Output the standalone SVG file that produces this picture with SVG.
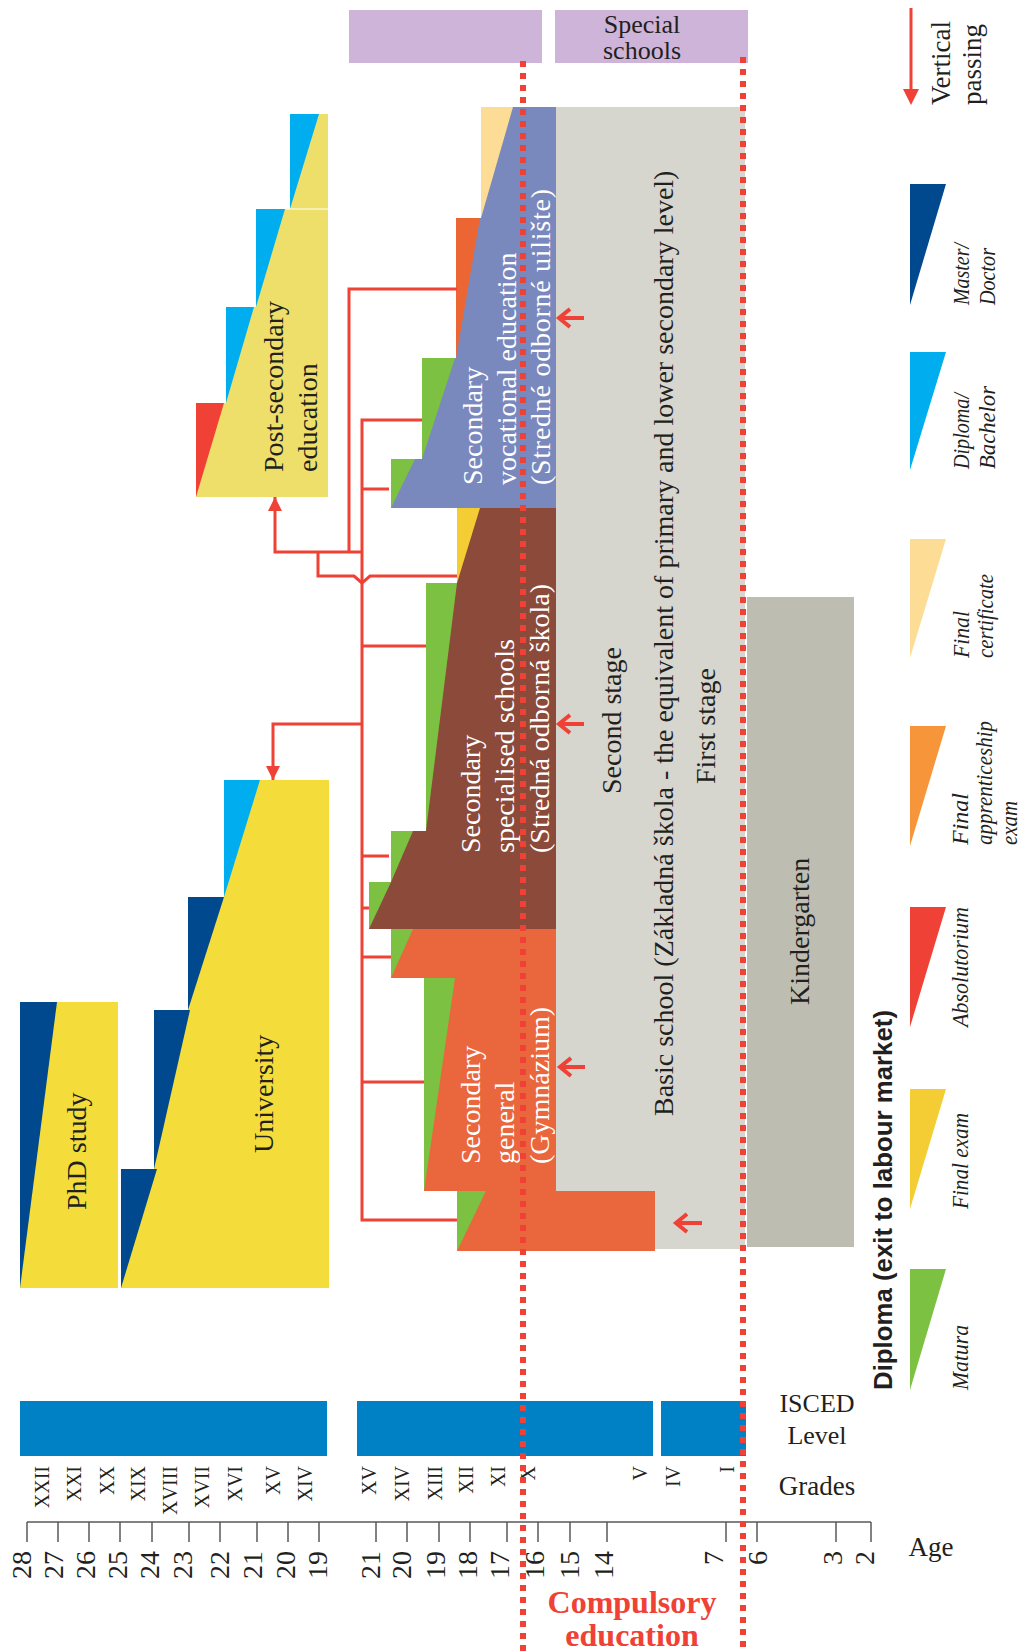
<svg xmlns="http://www.w3.org/2000/svg" width="1023" height="1651" viewBox="0 0 1023 1651">
<defs>
<style>
.t{font-family:"Liberation Serif",serif;fill:#231F20}
.w{fill:#fff}
.lab{font-size:28px}
.age{font-size:28px;text-anchor:end}
.gr{font-size:20px;text-anchor:end}
.lg{font-style:italic;font-size:24px}
.conn{stroke:#EF4135;stroke-width:3;fill:none}
.vp{stroke:#EF4135;stroke-width:4;fill:none}
.dot{stroke:#EF4135;stroke-width:6;stroke-dasharray:6 6;fill:none}
.axis{stroke:#58595B;stroke-width:1.5;fill:none}
.isced{fill:#0080C5}
.green{fill:#7CC142}
.dblue{fill:#00498F}
.lblue{fill:#00AEEF}
</style>
<marker id="ah" markerUnits="userSpaceOnUse" viewBox="0 0 14 14" refX="14" refY="7" markerWidth="14" markerHeight="14" orient="auto">
<path d="M0,0 L14,7 L0,14 Z" fill="#EF4135"/>
</marker>
</defs>
<rect width="1023" height="1651" fill="#fff"/>

<!-- Special schools -->
<g id="special-left"><rect x="349" y="10" width="193" height="53" fill="#CEB4D8"/></g>
<g id="special-schools"><rect x="555" y="10" width="193" height="53" fill="#CEB4D8"/>
<text class="t" font-size="26" x="642" y="33" text-anchor="middle">Special</text>
<text class="t" font-size="26" x="642" y="59" text-anchor="middle">schools</text></g>

<!-- Basic school -->
<g id="basic-school"><rect x="556" y="107" width="189" height="1142" fill="#D7D6CE"/>
<text class="t lab" transform="translate(673,1116) rotate(-90)">Basic school (Základná škola - the equivalent of primary and lower secondary level)</text>
<text class="t lab" transform="translate(621,794) rotate(-90)">Second stage</text>
<text class="t lab" transform="translate(715,784) rotate(-90)">First stage</text></g>

<!-- Kindergarten -->
<g id="kindergarten"><rect x="747" y="597" width="107" height="650" fill="#BEBDB1"/>
<text class="t lab" transform="translate(809,1005) rotate(-90)">Kindergarten</text></g>

<!-- Vocational -->
<g id="vocational"><path d="M481,107 H556 V508 H391 V459 H422 V358 H456 V218 H481 Z" fill="#7A89BD"/>
<path d="M481,107 L513,107 L481,218 Z" fill="#FDDD96"/>
<path d="M456,218 L480,218 L456,358 Z" fill="#EC6634"/>
<path d="M422,358 L455,358 L422,459 Z" class="green"/>
<path d="M391,459 L415,459 L391,508 Z" class="green"/>
<text class="t lab w" transform="translate(482,485) rotate(-90)">Secondary</text>
<text class="t lab w" transform="translate(516,485) rotate(-90)">vocational education</text>
<text class="t lab w" transform="translate(550,485) rotate(-90)" textLength="296" lengthAdjust="spacing">(Stredné odborné uilište)</text></g>

<!-- Specialised -->
<g id="specialised"><path d="M457,508 H556 V929 H369 V882 H391 V831 H426 V583 H457 Z" fill="#8B4A3A"/>
<path d="M457,508 L480,508 L457,583 Z" fill="#F3CD33"/>
<path d="M426,583 L457,583 L426,831 Z" class="green"/>
<path d="M391,831 L413,831 L391,882 Z" class="green"/>
<path d="M369,882 L391,882 L369,929 Z" class="green"/>
<text class="t lab w" transform="translate(480,853) rotate(-90)">Secondary</text>
<text class="t lab w" transform="translate(514,853) rotate(-90)">specialised schools</text>
<text class="t lab w" transform="translate(549,853) rotate(-90)">(Stredná odborná škola)</text></g>

<!-- Gymnazium -->
<g id="gymnazium"><path d="M391,929 H556 V1191 H655 V1251 H457 V1191 H424 V978 H391 Z" fill="#EA663D"/>
<path d="M391,929 L413,929 L391,978 Z" class="green"/>
<path d="M424,978 L455,978 L424,1191 Z" class="green"/>
<path d="M457,1191 L486,1191 L457,1251 Z" class="green"/>
<text class="t lab w" transform="translate(480,1164) rotate(-90)">Secondary</text>
<text class="t lab w" transform="translate(514,1164) rotate(-90)">general</text>
<text class="t lab w" transform="translate(549,1164) rotate(-90)">(Gymnázium)</text></g>

<!-- Post-secondary -->
<g id="post-secondary"><path d="M290,114 H328 V497 H196 V403 H226 V307 H256 V209 H290 Z" fill="#EEDF6A"/>
<path d="M290,114 L319,114 L290,209 Z" class="lblue"/>
<path d="M256,209 L285,209 L256,307 Z" class="lblue"/>
<path d="M226,307 L254,307 L226,403 Z" class="lblue"/>
<path d="M196,403 L224,403 L196,497 Z" fill="#EF4135"/>
<path d="M285,209 H328" stroke="#fff" stroke-width="1"/>
<text class="t lab" transform="translate(283,472) rotate(-90)">Post-secondary</text>
<text class="t lab" transform="translate(317,472) rotate(-90)">education</text></g>

<!-- University -->
<g id="university"><path d="M224,780 H329 V1288 H121 V1169 H154 V1010 H188 V897 H224 Z" fill="#F4DD3A"/>
<path d="M224,780 L260,780 L224,897 Z" class="lblue"/>
<path d="M188,897 L224,897 L188,1010 Z" class="dblue"/>
<path d="M154,1010 L190,1010 L154,1169 Z" class="dblue"/>
<path d="M121,1169 L157,1169 L121,1288 Z" class="dblue"/>
<text class="t lab" transform="translate(273,1153) rotate(-90)">University</text></g>

<!-- PhD -->
<g id="phd"><rect x="20" y="1002" width="98" height="286" fill="#F4DD3A"/>
<path d="M20,1002 L57,1002 L20,1288 Z" class="dblue"/>
<text class="t lab" transform="translate(86,1210) rotate(-90)">PhD study</text></g>

<!-- Connectors -->
<g id="connectors">
<path class="conn" d="M457,289 H349 V552"/>
<path class="conn" d="M422,420 H362 V1220 H457"/>
<path class="conn" d="M362,489 H389"/>
<path class="conn" d="M362,646 H426"/>
<path class="conn" d="M362,856 H389"/>
<path class="conn" d="M362,908 H369"/>
<path class="conn" d="M362,957 H391"/>
<path class="conn" d="M362,1082 H424"/>
<path class="conn" d="M362,552 H275 V497" marker-end="url(#ah)"/>
<path class="conn" d="M457,576 H370 L362,583 L354,576 H318 V552"/>
<path class="conn" d="M362,724 H273 V780" marker-end="url(#ah)"/>
<path class="vp" d="M584,318 H560 M570,309 L559,318 L570,327"/>
<path class="vp" d="M584,724 H560 M570,715 L559,724 L570,733"/>
<path class="vp" d="M585,1067 H561 M571,1058 L560,1067 L571,1076"/>
<path class="vp" d="M702,1223 H677 M687,1214 L676,1223 L687,1232"/>
</g>

<!-- ISCED bars -->
<g id="isced">
<rect class="isced" x="20" y="1401" width="307" height="55"/>
<rect class="isced" x="357" y="1401" width="296" height="55"/>
<rect class="isced" x="661" y="1401" width="85" height="55"/>
<text class="t" font-size="26" x="817" y="1412" text-anchor="middle">ISCED</text>
<text class="t" font-size="26" x="817" y="1444" text-anchor="middle">Level</text>
<text class="t" font-size="27" x="817" y="1495" text-anchor="middle">Grades</text>
</g>

<!-- Grades -->
<g id="grades">
<text class="t gr" transform="translate(49,1466) rotate(-90)">XXII</text>
<text class="t gr" transform="translate(81,1466) rotate(-90)">XXI</text>
<text class="t gr" transform="translate(114,1466) rotate(-90)">XX</text>
<text class="t gr" transform="translate(145,1466) rotate(-90)">XIX</text>
<text class="t gr" transform="translate(177,1466) rotate(-90)">XVIII</text>
<text class="t gr" transform="translate(209,1466) rotate(-90)">XVII</text>
<text class="t gr" transform="translate(242,1466) rotate(-90)">XVI</text>
<text class="t gr" transform="translate(280,1466) rotate(-90)">XV</text>
<text class="t gr" transform="translate(312,1466) rotate(-90)">XIV</text>
<text class="t gr" transform="translate(376,1466) rotate(-90)">XV</text>
<text class="t gr" transform="translate(409,1466) rotate(-90)">XIV</text>
<text class="t gr" transform="translate(442,1466) rotate(-90)">XIII</text>
<text class="t gr" transform="translate(473,1466) rotate(-90)">XII</text>
<text class="t gr" transform="translate(505,1466) rotate(-90)">XI</text>
<text class="t gr" transform="translate(535,1466) rotate(-90)">X</text>
<text class="t gr" transform="translate(647,1466) rotate(-90)">V</text>
<text class="t gr" transform="translate(680,1466) rotate(-90)">IV</text>
<text class="t gr" transform="translate(734,1466) rotate(-90)">I</text>
</g>

<!-- Age axis -->
<g id="age-axis">
<path class="axis" d="M27,1522 H871 M27,1522 V1542 M58,1522 V1542 M89,1522 V1542 M120,1522 V1542 M152,1522 V1542 M189,1522 V1542 M220,1522 V1542 M257,1522 V1542 M288,1522 V1542 M319,1522 V1542 M376,1522 V1542 M407,1522 V1542 M439,1522 V1542 M470,1522 V1542 M507,1522 V1542 M538,1522 V1542 M570,1522 V1542 M607,1522 V1542 M726,1522 V1542 M757,1522 V1542 M836,1522 V1542 M871,1522 V1542"/>
<text class="t age" transform="translate(31,1551) rotate(-90)">28</text>
<text class="t age" transform="translate(63,1551) rotate(-90)">27</text>
<text class="t age" transform="translate(95,1551) rotate(-90)">26</text>
<text class="t age" transform="translate(127,1551) rotate(-90)">25</text>
<text class="t age" transform="translate(159,1551) rotate(-90)">24</text>
<text class="t age" transform="translate(192,1551) rotate(-90)">23</text>
<text class="t age" transform="translate(229,1551) rotate(-90)">22</text>
<text class="t age" transform="translate(262,1551) rotate(-90)">21</text>
<text class="t age" transform="translate(295,1551) rotate(-90)">20</text>
<text class="t age" transform="translate(327,1551) rotate(-90)">19</text>
<text class="t age" transform="translate(380,1551) rotate(-90)">21</text>
<text class="t age" transform="translate(411,1551) rotate(-90)">20</text>
<text class="t age" transform="translate(445,1551) rotate(-90)">19</text>
<text class="t age" transform="translate(477,1551) rotate(-90)">18</text>
<text class="t age" transform="translate(509,1551) rotate(-90)">17</text>
<text class="t age" transform="translate(544,1551) rotate(-90)">16</text>
<text class="t age" transform="translate(579,1551) rotate(-90)">15</text>
<text class="t age" transform="translate(613,1551) rotate(-90)">14</text>
<text class="t age" transform="translate(723,1551) rotate(-90)">7</text>
<text class="t age" transform="translate(767,1551) rotate(-90)">6</text>
<text class="t age" transform="translate(842,1551) rotate(-90)">3</text>
<text class="t age" transform="translate(874,1551) rotate(-90)">2</text>
<text class="t" font-size="27" x="931" y="1556" text-anchor="middle">Age</text>
</g>

<!-- Compulsory education -->
<g id="compulsory">
<path class="dot" d="M523,61 V1651"/>
<path class="dot" d="M743,57 V1651"/>
<text x="632" y="1613" text-anchor="middle" font-family="Liberation Serif, serif" font-weight="bold" font-size="32" fill="#EF4135">Compulsory</text>
<text x="632" y="1646" text-anchor="middle" font-family="Liberation Serif, serif" font-weight="bold" font-size="32" fill="#EF4135">education</text>
</g>

<!-- Legend -->
<g id="legend">
<path d="M911,8 V92" stroke="#EF4135" stroke-width="3"/>
<path d="M903,89 L919,89 L911,105 Z" fill="#EF4135"/>
<text class="t" font-size="27" transform="translate(950,105) rotate(-90)">Vertical</text>
<text class="t" font-size="27" transform="translate(981,105) rotate(-90)">passing</text>

<path d="M910,184 L946,184 L910,305 Z" class="dblue"/>
<text class="t lg" transform="translate(969,305) rotate(-90)" textLength="62" lengthAdjust="spacingAndGlyphs">Master/</text>
<text class="t lg" transform="translate(995,305) rotate(-90)" textLength="57" lengthAdjust="spacingAndGlyphs">Doctor</text>

<path d="M910,352 L946,352 L910,470 Z" class="lblue"/>
<text class="t lg" transform="translate(969,469) rotate(-90)" textLength="76" lengthAdjust="spacingAndGlyphs">Diploma/</text>
<text class="t lg" transform="translate(995,469) rotate(-90)" textLength="83" lengthAdjust="spacingAndGlyphs">Bachelor</text>

<path d="M910,539 L946,539 L910,658 Z" fill="#FDDD96"/>
<text class="t lg" transform="translate(969,658) rotate(-90)" textLength="47" lengthAdjust="spacingAndGlyphs">Final</text>
<text class="t lg" transform="translate(993,658) rotate(-90)" textLength="84" lengthAdjust="spacingAndGlyphs">certificate</text>

<path d="M910,726 L946,726 L910,846 Z" fill="#F7953A"/>
<text class="t lg" transform="translate(968,845) rotate(-90)" textLength="52" lengthAdjust="spacingAndGlyphs">Final</text>
<text class="t lg" transform="translate(992,845) rotate(-90)" textLength="124" lengthAdjust="spacingAndGlyphs">apprenticeship</text>
<text class="t lg" transform="translate(1017,845) rotate(-90)" textLength="44" lengthAdjust="spacingAndGlyphs">exam</text>

<path d="M910,907 L946,907 L910,1027 Z" fill="#EF4135"/>
<text class="t lg" transform="translate(968,1027) rotate(-90)" textLength="120" lengthAdjust="spacingAndGlyphs">Absolutorium</text>

<path d="M910,1089 L946,1089 L910,1209 Z" fill="#F3CD33"/>
<text class="t lg" transform="translate(968,1209) rotate(-90)" textLength="96" lengthAdjust="spacingAndGlyphs">Final exam</text>

<path d="M910,1269 L946,1269 L910,1390 Z" class="green"/>
<text class="t lg" transform="translate(968,1390) rotate(-90)" textLength="65" lengthAdjust="spacingAndGlyphs">Matura</text>

<text font-family="Liberation Sans, sans-serif" font-weight="bold" font-size="26" fill="#231F20" transform="translate(892,1390) rotate(-90)" textLength="380" lengthAdjust="spacingAndGlyphs">Diploma (exit to labour market)</text>
</g>
</svg>
